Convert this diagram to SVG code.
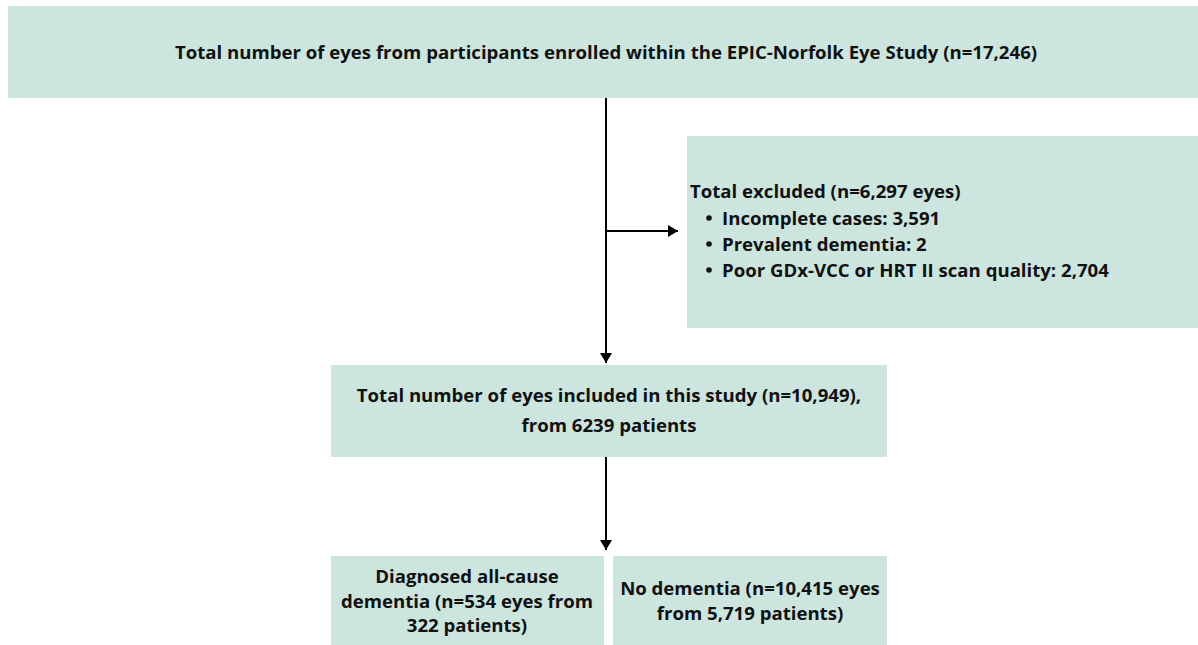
<svg xmlns="http://www.w3.org/2000/svg" width="1198" height="645" viewBox="0 0 1198 645">
<defs>
<style>
.box{fill:#CDE5DF;}
.t{font-family:"Open Sans","Liberation Sans",sans-serif;font-weight:700;font-size:18.6px;fill:#111;}
.c{text-anchor:middle;}
.ln{stroke:#000;stroke-width:2;fill:none;}
</style>
<marker id="ah" viewBox="0 0 10 12" refX="10" refY="6" markerWidth="10" markerHeight="12" markerUnits="userSpaceOnUse" orient="auto">
<path d="M0,0 L10,6 L0,12 Z" fill="#000"/>
</marker>
</defs>
<rect width="1198" height="645" fill="#fff"/>
<g id="connectors">
<line class="ln" x1="606" y1="98" x2="606" y2="363" marker-end="url(#ah)"/>
<line class="ln" x1="606" y1="231" x2="678" y2="231" marker-end="url(#ah)"/>
<line class="ln" x1="606" y1="457" x2="606" y2="550" marker-end="url(#ah)"/>
</g>
<g id="node-total">
<rect class="box" x="8" y="6" width="1190" height="92"/>
<text class="t c" x="606" y="59">Total number of eyes from participants enrolled within the EPIC-Norfolk Eye Study (n=17,246)</text>
</g>
<g id="node-excluded">
<rect class="box" x="687" y="136" width="511" height="192"/>
<text class="t" x="690" y="198">Total excluded (n=6,297 eyes)</text>
<circle cx="709" cy="218" r="2.8" fill="#111"/>
<circle cx="709" cy="244" r="2.8" fill="#111"/>
<circle cx="709" cy="270" r="2.8" fill="#111"/>
<text class="t" x="722" y="225">Incomplete cases: 3,591</text>
<text class="t" x="722" y="251">Prevalent dementia: 2</text>
<text class="t" x="722" y="277">Poor GDx-VCC or HRT II scan quality: 2,704</text>
</g>
<g id="node-included">
<rect class="box" x="331" y="365" width="556" height="92"/>
<text class="t c" x="609" y="402">Total number of eyes included in this study (n=10,949),</text>
<text class="t c" x="609" y="432">from 6239 patients</text>
</g>
<g id="node-dementia">
<rect class="box" x="331" y="556" width="273" height="89"/>
<text class="t c" x="467" y="583">Diagnosed all-cause</text>
<text class="t c" x="467" y="608">dementia (n=534 eyes from</text>
<text class="t c" x="467" y="632">322 patients)</text>
</g>
<g id="node-nodementia">
<rect class="box" x="613" y="556" width="274" height="89"/>
<text class="t c" x="750" y="595">No dementia (n=10,415 eyes</text>
<text class="t c" x="750" y="620">from 5,719 patients)</text>
</g>
</svg>
